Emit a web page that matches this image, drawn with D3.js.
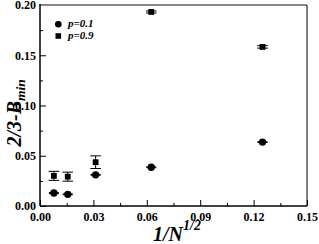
<!DOCTYPE html>
<html>
<head>
<meta charset="utf-8">
<title>2/3-Bmin vs 1/N^1/2</title>
<style>
  body { margin: 0; background: #fff; }
</style>
</head>
<body>
<svg width="319" height="244"></svg>
<script src="https://cdn.jsdelivr.net/npm/d3@7"></script>
<script>
// data
var xVals = [0.0078, 0.0156, 0.03125, 0.0625, 0.125];
var p01 = [0.0129, 0.0116, 0.0310, 0.0385, 0.0636];
var p01Err = [0.0004, 0.0004, 0.0004, 0.0004, 0.0004];
var p09 = [0.0300, 0.0292, 0.0436, 0.1931, 0.1583];
var p09Err = [0.0045, 0.0045, 0.0063, 0.0010, 0.0012];
var xTicks = [0, 0.03, 0.06, 0.09, 0.12, 0.15];
var yTicks = [0, 0.05, 0.10, 0.15, 0.20];

var FONT = "Liberation Serif";
var svg = d3.select("svg");
var pL = 40, pR = 307, pT = 5, pB = 206;

var x = d3.scaleLinear().domain([0, 0.15]).range([pL, pR]);
var y = d3.scaleLinear().domain([0, 0.20]).range([pB, pT]);

// axes (ticks point inward)
var xAxis = svg.append("g")
  .attr("transform", "translate(0," + pB + ")")
  .call(d3.axisBottom(x).tickValues(xTicks).tickSize(-6).tickPadding(6.5).tickFormat(d3.format(".2f")));
var xMinor = svg.append("g")
  .attr("transform", "translate(0," + pB + ")")
  .call(d3.axisBottom(x).tickValues(d3.range(0.015, 0.15, 0.03)).tickSize(-3).tickFormat(""));
var yAxis = svg.append("g")
  .attr("transform", "translate(" + pL + ",0)")
  .call(d3.axisLeft(y).tickValues(yTicks).tickSize(-6).tickPadding(4).tickFormat(d3.format(".2f")));
var yMinor = svg.append("g")
  .attr("transform", "translate(" + pL + ",0)")
  .call(d3.axisLeft(y).tickValues(d3.range(0.025, 0.2, 0.05)).tickSize(-3).tickFormat(""));

[xAxis, xMinor, yAxis, yMinor].forEach(function(g) {
  g.select(".domain").remove();
  g.selectAll("line").attr("stroke", "#000");
  g.selectAll("text")
    .attr("fill", "#000")
    .attr("font-family", FONT)
    .attr("font-weight", "bold")
    .attr("font-size", 12);
});

// frame
svg.append("line").attr("x1", pL).attr("x2", pR).attr("y1", pT).attr("y2", pT)
  .attr("stroke", "#888").attr("stroke-width", 2);
svg.append("line").attr("x1", pR).attr("x2", pR).attr("y1", pT).attr("y2", pB)
  .attr("stroke", "#000").attr("stroke-width", 1);
svg.append("line").attr("x1", pL).attr("x2", pR).attr("y1", pB).attr("y2", pB)
  .attr("stroke", "#000").attr("stroke-width", 1.5);
svg.append("line").attr("x1", pL).attr("x2", pL).attr("y1", pT - 1).attr("y2", pB)
  .attr("stroke", "#000").attr("stroke-width", 1.5);

// error bars
function errBars(vals, errs, cap) {
  var g = svg.append("g").attr("stroke", "#000").attr("stroke-width", 1);
  vals.forEach(function(v, i) {
    var cx = x(xVals[i]);
    g.append("line").attr("x1", cx).attr("x2", cx).attr("y1", y(v - errs[i])).attr("y2", y(v + errs[i]));
    g.append("line").attr("x1", cx - cap).attr("x2", cx + cap).attr("y1", y(v - errs[i])).attr("y2", y(v - errs[i]));
    g.append("line").attr("x1", cx - cap).attr("x2", cx + cap).attr("y1", y(v + errs[i])).attr("y2", y(v + errs[i]));
  });
}
errBars(p09, p09Err, 5.3);
errBars(p01, p01Err, 5);

svg.append("g").selectAll("circle").data(p01).enter().append("circle")
  .attr("cx", function(d, i) { return x(xVals[i]); })
  .attr("cy", function(d) { return y(d); })
  .attr("r", 3.7)
  .attr("fill", "#000");

svg.append("g").selectAll("rect").data(p09).enter().append("rect")
  .attr("x", function(d, i) { return x(xVals[i]) - 2.9; })
  .attr("y", function(d) { return y(d) - 2.9; })
  .attr("width", 5.8)
  .attr("height", 5.8)
  .attr("fill", "#000");

// legend
svg.append("circle").attr("cx", 58.3).attr("cy", 24.3).attr("r", 3.3).attr("fill", "#000");
svg.append("rect").attr("x", 55.5).attr("y", 33.2).attr("width", 5.6).attr("height", 5.6).attr("fill", "#000");
[["p=0.1", 27], ["p=0.9", 38.5]].forEach(function(l) {
  svg.append("text").attr("x", 68).attr("y", l[1])
    .attr("font-family", FONT).attr("font-weight", "bold").attr("font-style", "italic")
    .attr("font-size", 11).text(l[0]);
});

// axis titles
var yl = svg.append("text")
  .attr("transform", "translate(20.5,146.5) rotate(-90)")
  .attr("font-family", FONT).attr("font-weight", "bold")
  .attr("font-size", 20).attr("font-style", "italic");
yl.append("tspan").text("2/3-B");
yl.append("tspan").attr("dy", 4.5).attr("font-size", 13.5).text("min");

var xl = svg.append("text")
  .attr("x", 153).attr("y", 241)
  .attr("font-family", FONT).attr("font-weight", "bold")
  .attr("font-size", 20).attr("font-style", "italic");
xl.append("tspan").text("1/N");
xl.append("tspan").attr("dy", -11).attr("font-size", 14).text("1/2");
</script>
</body>
</html>
